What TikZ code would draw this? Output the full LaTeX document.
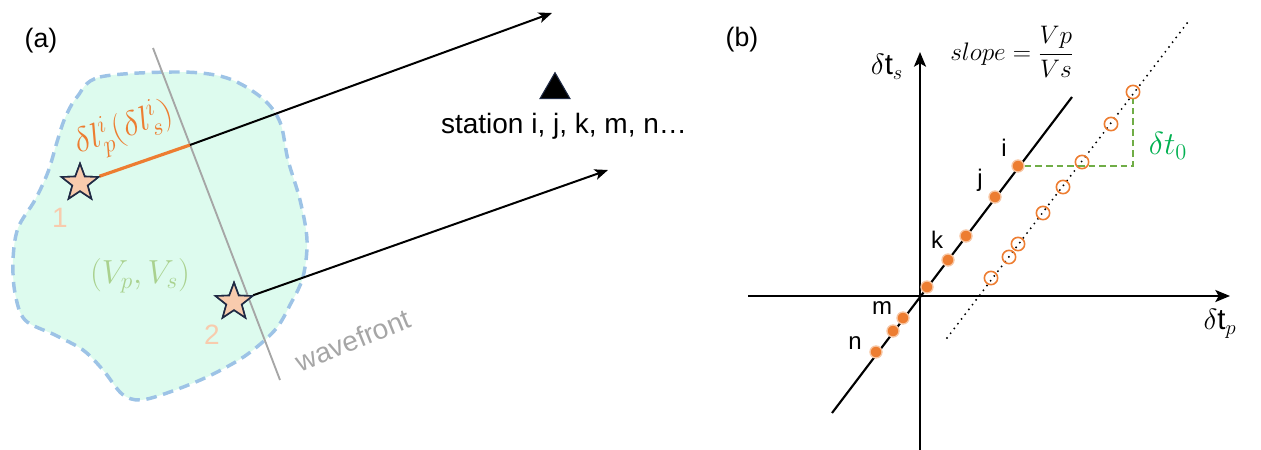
\RequirePackage{fix-cm}
\documentclass[tikz,border=0pt]{standalone}
\usepackage{fontspec}
\setmainfont{Liberation Sans}
\usetikzlibrary{arrows.meta,positioning,shapes.geometric}
\definecolor{Peach}{HTML}{F8CBAD}
\definecolor{Navy}{HTML}{1F2A44}
\definecolor{Mint}{HTML}{DDFBEE}
\definecolor{BlobBlue}{HTML}{9DC3E6}
\definecolor{Orange}{HTML}{ED7D31}
\definecolor{WaveGray}{HTML}{A6A6A6}
\definecolor{SoftGreen}{HTML}{A9D18E}
\definecolor{DashGreen}{HTML}{70AD47}
\definecolor{Green}{HTML}{00B050}

\begin{document}
\begin{tikzpicture}[x=0.75pt,y=-0.75pt,
        ray/.style={line width=1.5pt,-{Stealth[length=10pt,width=8pt,inset=2.5pt]}},
        axis/.style={line width=1.6pt,-{Stealth[length=11pt,width=9pt,inset=2.5pt]}},
        event/.style={star,star points=5,star point ratio=2.4,draw=Navy,fill=Peach,
          line width=1.2pt,minimum size=29pt,inner sep=0pt},
        fdot/.style={circle,fill=Orange,draw=Orange!45,line width=1pt,minimum size=9pt,inner sep=0pt},
        odot/.style={circle,draw=Orange,line width=1.2pt,minimum size=10pt,inner sep=0pt},
        panel/.style={font=\fontsize{20}{24}\selectfont},
        lbl/.style={font=\fontsize{18}{20}\selectfont}]
        \useasboundingbox (0,0) rectangle (1261,450);
        % (a)
        \node[panel] (pa) at (41,41) {(a)};
        \draw[BlobBlue,fill=Mint,line width=2.6pt,dash pattern=on 8pt off 5pt]
          plot[smooth cycle,tension=0.55] coordinates {(77,97) (100,77) (180,72) (227,78)
          (262,98) (280,122) (288,160) (300,200) (307,240) (303,277) (290,305) (275,330)
          (245,356) (207,377) (167,393) (140,400) (122,394) (103,370) (83,350) (55,335)
          (25,320) (15,293) (13,260) (18,228) (35,200) (48,172) (57,142) (65,118)};
        \coordinate (wtop) at (153,48);
        \coordinate (wbot) at (280,380);
        \coordinate (w1) at (190,145);
        \coordinate (e1) at (552,13);
        \coordinate (e2) at (608,170);
        \draw[WaveGray,line width=1.4pt] (wtop) -- (wbot);
        \node[event] (s1) at (80,183) {};
        \node[event] (s2) at (234,302) {};
        \draw[Orange,line width=2.4pt] (s1) -- (w1);
        \draw[ray] (w1) -- (e1);
        \draw[ray] (s2) -- (e2);
        \node[event] at (s1) {};
        \node[event] at (s2) {};
        \node[Orange,rotate=19,font=\fontsize{26}{28}\selectfont] (dl) at (124,130)
          {$\delta l_p^i(\delta l_s^i)$};
        \node[Peach,font=\fontsize{21}{24}\selectfont] (n1) at (60,218) {1};
        \node[Peach,font=\fontsize{21}{24}\selectfont] (n2) at (212,335) {2};
        \node[SoftGreen,font=\fontsize{25}{28}\selectfont] (vel) at (140,276) {$(V_p,V_s)$};
        \node[WaveGray,rotate=22,font=\fontsize{21}{24}\selectfont] (wf) at (353,340) {wavefront};
        \node[regular polygon,regular polygon sides=3,fill=black,draw=Navy,line width=0.8pt,
          minimum size=26pt,inner sep=0pt] (tri) at (555,90) {};
        \node[anchor=base,font=\fontsize{21}{24}\selectfont] (st) at (564,133) {station i, j, k, m, n…};
        % (b)
        \node[panel] (pb) at (742,40) {(b)};
        \coordinate (ybot) at (920,450);
        \coordinate (ytop) at (920,52);
        \coordinate (xleft) at (748,296);
        \coordinate (xright) at (1230,296);
        \draw[axis] (ybot) -- (ytop);
        \draw[axis] (xleft) -- (xright);
        \node[font=\fontsize{22}{24}\selectfont] (ts) at (887,67) {$\delta\mbox{t}_s$};
        \node[font=\fontsize{22}{24}\selectfont] (tp) at (1220,324) {$\delta\mbox{t}_p$};
        \node[font=\fontsize{19}{22}\selectfont] (slope) at (1012,52)
          {$\displaystyle slope=\frac{Vp}{Vs}$};
        \coordinate (a0) at (832,413);
        \coordinate (a1) at (1072,97);
        \coordinate (b0) at (947,338);
        \coordinate (b1) at (1188,22);
        \draw[line width=1.6pt] (a0) -- (a1);
        \draw[line width=1.6pt,dash pattern=on 0pt off 4.5pt,line cap=round] (b0) -- (b1);
        \foreach \x/\y [count=\n] in {1018/166,995/197,966/236,948/260,927/287,903/318,893/331,876/352}
          \node[fdot] (f\n) at (\x,\y) {};
        \foreach \x/\y [count=\n] in {1133/92,1111/124,1082/162,1063/187,1043/213,1018/244,1009/257,991/278}
          \node[odot] (o\n) at (\x,\y) {};
        \draw[DashGreen,line width=1.2pt,dash pattern=on 5pt off 3pt]
          (f1.east) -- (f1.east -| o1) -- (o1.south);
        \node[Green,font=\fontsize{24}{26}\selectfont] (t0) at (1168,146) {$\delta t_0$};
        \node[lbl] (li) at (1004,148) {i};
        \node[lbl] (lj) at (980,180) {j};
        \node[lbl] (lk) at (937,240) {k};
        \node[lbl] (lm) at (882,308) {m};
        \node[lbl] (ln) at (855,343) {n};
\end{tikzpicture}
\end{document}
